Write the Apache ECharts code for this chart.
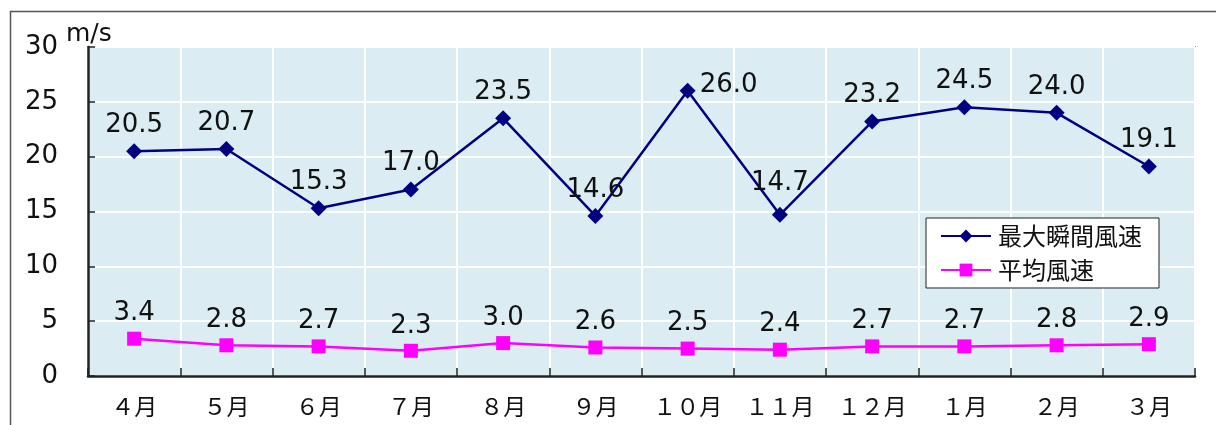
<!DOCTYPE html>
<html>
<head>
<meta charset="utf-8">
<script src="https://cdn.jsdelivr.net/npm/echarts@6/dist/echarts.min.js"></script>
<style>
  html, body { margin: 0; padding: 0; background: #fff; }
  #main { width: 1216px; height: 425px; }
</style>
</head>
<body>
<div id="main"></div>
<script>
// 月
var months = ['４月', '５月', '６月', '７月', '８月', '９月', '１０月', '１１月', '１２月', '１月', '２月', '３月'];
// 最大瞬間風速 (m/s)
var maxGust = [20.5, 20.7, 15.3, 17.0, 23.5, 14.6, 26.0, 14.7, 23.2, 24.5, 24.0, 19.1];
// 平均風速 (m/s)
var avgWind = [3.4, 2.8, 2.7, 2.3, 3.0, 2.6, 2.5, 2.4, 2.7, 2.7, 2.8, 2.9];
var yTicks = [0, 5, 10, 15, 20, 25, 30];

var chart = echarts.init(document.getElementById('main'), null, { renderer: 'canvas' });

var numFont = 'DejaVu Sans, Noto Sans CJK JP, sans-serif';
var jpFont = 'Noto Sans CJK JP, sans-serif';

// 26.0 だけ右側にラベル、14.7 は少し上
var gustData = maxGust.map(function (v, i) {
  if (i === 6) {
    return { value: v, label: { position: 'right', distance: 4, offset: [0, -6] } };
  }
  if (i === 7) {
    return { value: v, label: { offset: [0, -6] } };
  }
  return v;
});

var option = {
  backgroundColor: '#ffffff',
  animation: false,
  grid: {
    left: 88,
    top: 47,
    right: 21,
    bottom: 49,
    show: true,
    backgroundColor: '#dbedf3',
    borderColor: '#8c8c8c',
    borderWidth: 2
  },
  graphic: [
    {
      type: 'rect',
      left: 8,
      top: 9,
      shape: { width: 1300, height: 500 },
      style: { fill: 'none', stroke: '#555', lineWidth: 1.5 },
      silent: true
    },
    {
      type: 'text',
      left: 66,
      top: 22,
      style: { text: 'm/s', font: '25px ' + numFont, fill: '#111' }
    }
  ],
  legend: {
    orient: 'vertical',
    left: 926,
    top: 218,
    padding: [6, 17, 6, 14],
    itemGap: 10,
    itemWidth: 50,
    itemHeight: 16,
    backgroundColor: '#ffffff',
    borderColor: '#222',
    borderWidth: 1,
    borderRadius: 0,
    textStyle: { fontFamily: jpFont, fontSize: 24, color: '#111', padding: [0, 0, 0, 2] },
    data: ['最大瞬間風速', '平均風速']
  },
  xAxis: {
    type: 'category',
    data: months,
    boundaryGap: true,
    axisLine: { lineStyle: { color: '#222', width: 2.5 } },
    axisTick: { show: true, inside: true, interval: 0, length: 8, lineStyle: { color: '#222', width: 1.5 } },
    axisLabel: { interval: 0, hideOverlap: false, fontFamily: jpFont, fontSize: 23, color: '#111', margin: 19 },
    splitLine: { show: true, interval: 0, lineStyle: { color: '#ffffff', width: 2 } }
  },
  yAxis: {
    type: 'value',
    min: yTicks[0],
    max: yTicks[yTicks.length - 1],
    interval: 5,
    axisLine: { show: true, lineStyle: { color: '#222', width: 2.5 } },
    axisTick: { show: true, inside: true, length: 7, lineStyle: { color: '#222', width: 1.5 } },
    axisLabel: { fontFamily: numFont, fontSize: 26, color: '#111', margin: 30 },
    splitLine: { show: true, lineStyle: { color: '#ffffff', width: 2 } }
  },
  series: [
    {
      name: '最大瞬間風速',
      type: 'line',
      data: gustData,
      symbol: 'diamond',
      symbolSize: 16,
      itemStyle: { color: '#000080' },
      lineStyle: { color: '#000080', width: 2.5 },
      label: {
        show: true,
        position: 'top',
        distance: 5,
        fontFamily: numFont,
        fontSize: 26,
        color: '#111',
        formatter: function (p) { return p.value.toFixed(1); }
      }
    },
    {
      name: '平均風速',
      type: 'line',
      data: avgWind,
      symbol: 'rect',
      symbolSize: 14,
      itemStyle: { color: '#ff00ff' },
      lineStyle: { color: '#ff00ff', width: 2.5 },
      label: {
        show: true,
        position: 'top',
        distance: 5,
        fontFamily: numFont,
        fontSize: 26,
        color: '#111',
        formatter: function (p) { return p.value.toFixed(1); }
      }
    }
  ]
};

chart.setOption(option);
</script>
</body>
</html>
